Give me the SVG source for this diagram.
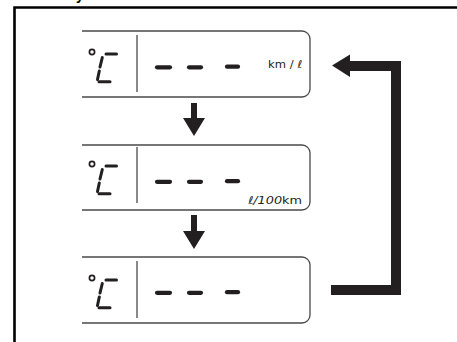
<svg xmlns="http://www.w3.org/2000/svg" width="457" height="342" viewBox="0 0 457 342">
<defs>
<style>
.frame{fill:none;stroke:#000;stroke-width:2.6}
.box{fill:none;stroke:#4a4a4a;stroke-width:1.3}
.div{stroke:#4a4a4a;stroke-width:1.3}
.seg{stroke:#231f20;stroke-width:3;stroke-linecap:round;fill:none}
.deg{fill:none;stroke:#231f20;stroke-width:1.7}
.dash{stroke:#231f20;stroke-width:4.2;stroke-linecap:round}
.unit{font-family:"DejaVu Sans Condensed","DejaVu Sans",sans-serif;font-size:11px;fill:#231f20}
.arr{fill:#231f20}
.loop{fill:none;stroke:#231f20;stroke-width:10;stroke-linejoin:miter;stroke-linecap:butt}
</style>
<g id="celsius">
<circle class="deg" cx="92" cy="52" r="2.6"/>
<line class="seg" x1="106" y1="54" x2="116.5" y2="54"/>
<line class="seg" x1="102.3" y1="57.5" x2="100" y2="67"/>
<line class="seg" x1="99.3" y1="71" x2="97.5" y2="79.5"/>
<line class="seg" x1="99" y1="81.7" x2="110" y2="81.7"/>
</g>
<g id="dashes">
<line class="dash" x1="157" y1="67.3" x2="170" y2="67.3"/>
<line class="dash" x1="189" y1="67.3" x2="201" y2="67.3"/>
<line class="dash" x1="227" y1="66.7" x2="238" y2="66.7"/>
</g>
</defs>
<path class="frame" d="M14.5,342 V7.5 H457"/>
<text x="76" y="-0.5" style="font-family:'Liberation Sans',sans-serif;font-size:14px;font-weight:bold" fill="#000">y</text>
<g id="node1">
<path class="box" d="M82,31 H302 A8,8 0 0 1 310,39 V89 A8,8 0 0 1 302,97 H82"/>
<line class="div" x1="137" y1="35" x2="137" y2="92"/>
<use href="#celsius"/>
<use href="#dashes"/>
<text class="unit" x="268" y="67.5" textLength="34" lengthAdjust="spacingAndGlyphs">km / ℓ</text>
</g>
<g id="node2">
<path class="box" d="M82,145 H302 A8,8 0 0 1 310,153 V202 A8,8 0 0 1 302,210 H82"/>
<line class="div" x1="137" y1="147" x2="137" y2="203"/>
<use href="#celsius" transform="translate(0,112)"/>
<use href="#dashes" transform="translate(0,114.5)"/>
<text class="unit" x="248" y="204" textLength="54" lengthAdjust="spacingAndGlyphs"><tspan font-style="italic">ℓ/100</tspan>km</text>
</g>
<g id="node3">
<path class="box" d="M82,257 H302 A8,8 0 0 1 310,265 V315 A8,8 0 0 1 302,323 H82"/>
<line class="div" x1="137" y1="261" x2="137" y2="318"/>
<use href="#celsius" transform="translate(0,226)"/>
<use href="#dashes" transform="translate(0,225.5)"/>
</g>
<g id="connectors">
<polygon class="arr" points="191,103 197,103 197,118 205,118 194,136 183,118 191,118"/>
<polygon class="arr" points="191,215 197,215 197,231 205,231 194,249 183,231 191,231"/>
<path class="loop" d="M349,66 H396 V290 H331"/>
<polygon class="arr" points="332,65.5 350,54.5 350,77"/>
</g>
</svg>
